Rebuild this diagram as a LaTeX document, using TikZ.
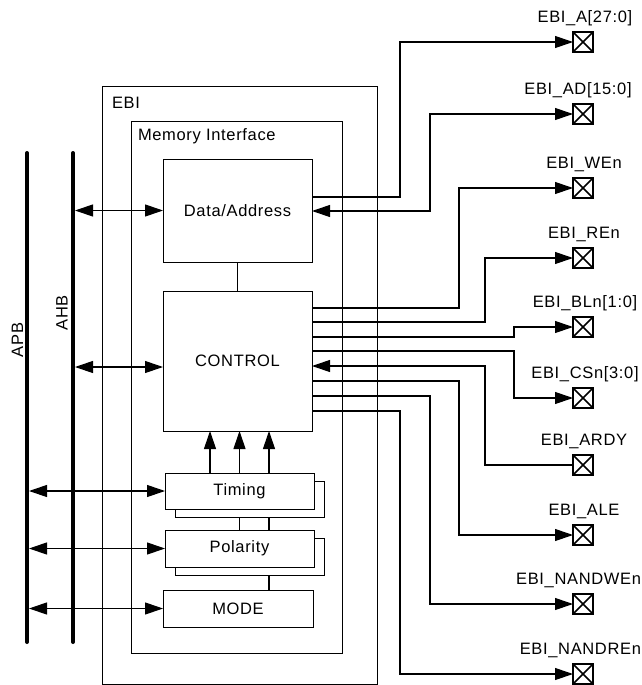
\documentclass[tikz,border=0pt]{standalone}
\usepackage{fontspec}
\setmainfont{Liberation Sans}
\newfontfamily\ebifam[LetterSpace=4]{Liberation Sans}
\usetikzlibrary{arrows.meta,calc}
\begin{document}
\begin{tikzpicture}[x=1pt,y=-1pt,
  >={Triangle[length=18pt,width=12pt]},
  blk/.style={draw, line width=1pt, fill=white, inner sep=0pt, outer sep=0pt, anchor=north west},
  txt/.style={inner sep=0pt, outer sep=0pt, font=\fontsize{16.5}{18}\selectfont\ebifam},
  sig/.style={line width=1.1pt},
  busbar/.style={line width=4pt, line cap=round},
  pinbox/.style={draw, line width=2pt, minimum size=20pt, inner sep=0pt, outer sep=0pt,
    path picture={\draw[line width=1.6pt]
      (path picture bounding box.north west) -- (path picture bounding box.south east)
      (path picture bounding box.north east) -- (path picture bounding box.south west);}}
]
\useasboundingbox (0,0) rectangle (642,685);

% outer boxes
\node[blk, minimum width=275pt, minimum height=598pt] (ebi) at (102,86) {};
\node[txt, anchor=west] (ebil) at (112,103) {EBI};
\node[blk, minimum width=211pt, minimum height=532pt] (mi) at (131,121) {};
\node[txt, anchor=west] (mil) at (138,136) {Memory Interface};

% inner blocks
\node[blk, minimum width=149pt, minimum height=103pt] (data) at (163,159) {};
\node[txt] at (data.center) {Data/Address};
\node[blk, minimum width=149pt, minimum height=140pt] (ctrl) at (163,291) {};
\node[txt] at (ctrl.center) {CONTROL};
\node[blk, minimum width=149pt, minimum height=36pt] (tsh) at (175,481) {};
\node[blk, minimum width=149pt, minimum height=36pt] (timing) at (165,473) {};
\node[txt] at (timing.center) {Timing};
\node[blk, minimum width=149pt, minimum height=37pt] (psh) at (175,538) {};
\node[blk, minimum width=149pt, minimum height=37pt] (pol) at (165,530) {};
\node[txt] at (pol.center) {Polarity};
\node[blk, minimum width=150pt, minimum height=37pt] (mode) at (163,590) {};
\node[txt] at (mode.center) {MODE};

% buses
\coordinate (apbt) at (27,153);
\coordinate (apbb) at (27,642);
\coordinate (ahbt) at (73,153);
\coordinate (ahbb) at (73,642);
\draw[busbar] (apbt) -- (apbb);
\draw[busbar] (ahbt) -- (ahbb);
\node[txt, rotate=90] (apbl) at (17.5,340) {APB};
\node[txt, rotate=90] (ahbl) at (62,313) {AHB};
\coordinate (ahbx) at (75,0);
\coordinate (apbx) at (29,0);

\draw[sig,<->] (ahbx |- data.west) -- (data.west);
\coordinate (cw) at ($(ctrl.west)+(0,6)$);
\draw[sig,<->] (ahbx |- cw) -- (cw);
\draw[sig,<->] (apbx |- timing.west) -- (timing.west);
\draw[sig,<->] (apbx |- pol.west) -- (pol.west);
\draw[sig,<->] (apbx |- mode.west) -- (mode.west);

% internal links
\draw[sig] (data.south) -- (ctrl.north);
\coordinate (u1) at ($(timing.north)+(-29.5,0)$);
\coordinate (u2) at (timing.north);
\coordinate (u3) at ($(timing.north)+(29.5,0)$);
\draw[sig,->] (u1) -- (u1 |- ctrl.south);
\draw[sig,->] (u2) -- (u2 |- ctrl.south);
\draw[sig,->] (u3) -- (u3 |- ctrl.south);
\draw[sig] (u2 |- tsh.south) -- (u2 |- pol.north);
\draw[sig] (u3 |- tsh.south) -- (u3 |- pol.north);
\draw[sig] (u3 |- psh.south) -- (u3 |- mode.north);

% pins
\node[pinbox] (pA)   at (583,42) {};
\node[pinbox] (pAD)  at (583,114) {};
\node[pinbox] (pWE)  at (583,188) {};
\node[pinbox] (pRE)  at (583,258) {};
\node[pinbox] (pBL)  at (583,327) {};
\node[pinbox] (pCS)  at (583,398) {};
\node[pinbox] (pRDY) at (583,465) {};
\node[pinbox] (pALE) at (583,535) {};
\node[pinbox] (pNWE) at (583,604) {};
\node[pinbox] (pNRE) at (583,674) {};
\node[txt, anchor=base] (lA)   at (585,22.5)  {EBI\_A[27:0]};
\node[txt, anchor=base] (lAD)  at (578,94.5)  {EBI\_AD[15:0]};
\node[txt, anchor=base] (lWE)  at (584,168.5) {EBI\_WEn};
\node[txt, anchor=base] (lRE)  at (584,238.5) {EBI\_REn};
\node[txt, anchor=base] (lBL)  at (585,307.5) {EBI\_BLn[1:0]};
\node[txt, anchor=base] (lCS)  at (585,378.5) {EBI\_CSn[3:0]};
\node[txt, anchor=base] (lRDY) at (584,445.5) {EBI\_ARDY};
\node[txt, anchor=base] (lALE) at (584,515.5) {EBI\_ALE};
\node[txt, anchor=base east] (lNWE) at (641,584.5) {EBI\_NANDWEn};
\node[txt, anchor=base east] (lNRE) at (641,654.5) {EBI\_NANDREn};

% route columns
\coordinate (x1) at (400,0);
\coordinate (x2) at (430,0);
\coordinate (x3) at (459,0);
\coordinate (x4) at (485,0);
\coordinate (x5) at (514,0);

% data/address side
\coordinate (d1) at ($(data.north east)+(0,38)$);
\coordinate (d2) at ($(data.north east)+(0,52)$);
\draw[sig,->] (d1) -| (x1 |- pA.west) -- (pA.west);
\draw[sig,<->] (d2) -| (x2 |- pAD.west) -- (pAD.west);

% control side
\coordinate (c1) at ($(ctrl.north east)+(0,17)$);
\coordinate (c2) at ($(ctrl.north east)+(0,31)$);
\coordinate (c3) at ($(ctrl.north east)+(0,46)$);
\coordinate (c4) at ($(ctrl.north east)+(0,60)$);
\coordinate (c5) at ($(ctrl.north east)+(0,75)$);
\coordinate (c6) at ($(ctrl.north east)+(0,90)$);
\coordinate (c7) at ($(ctrl.north east)+(0,105)$);
\coordinate (c8) at ($(ctrl.north east)+(0,120)$);
\draw[sig,->] (c1) -| (x3 |- pWE.west) -- (pWE.west);
\draw[sig,->] (c2) -| (x4 |- pRE.west) -- (pRE.west);
\draw[sig,->] (c3) -| (x5 |- pBL.west) -- (pBL.west);
\draw[sig,->] (c4) -| (x5 |- pCS.west) -- (pCS.west);
\draw[sig,->] (pRDY.west) -| (x4 |- c5) -- (c5);
\draw[sig,->] (c6) -| (x3 |- pALE.west) -- (pALE.west);
\draw[sig,->] (c7) -| (x2 |- pNWE.west) -- (pNWE.west);
\draw[sig,->] (c8) -| (x1 |- pNRE.west) -- (pNRE.west);
\end{tikzpicture}
\end{document}
